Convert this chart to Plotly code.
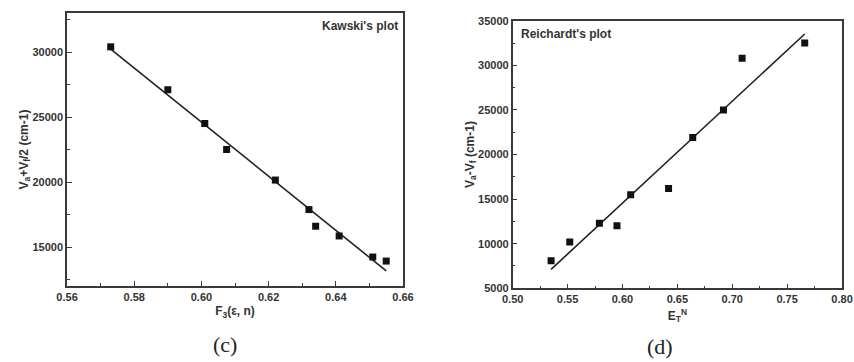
import numpy as np
import plotly.graph_objects as go

# Kawski's plot (c)
kaw_x = [0.573, 0.590, 0.601, 0.6075, 0.622, 0.632, 0.634, 0.641, 0.651, 0.655]
kaw_y = [30400, 27100, 24500, 22500, 20150, 17880, 16600, 15850, 14230, 13920]

# Reichardt's plot (d)
rei_x = [0.535, 0.552, 0.579, 0.595, 0.6075, 0.642, 0.664, 0.692, 0.709, 0.766]
rei_y = [8100, 10200, 12300, 12000, 15500, 16200, 21900, 25000, 30800, 32500]

kaw_fit = np.polyfit(kaw_x, kaw_y, 1)
rei_fit = np.polyfit(rei_x, rei_y, 1)
kaw_lx = [min(kaw_x), max(kaw_x)]
rei_lx = [min(rei_x), max(rei_x)]

TXT = "#333333"
LINE = "#3a3a3a"
FONT = "Liberation Sans"

fig = go.Figure()
fig.add_trace(go.Scatter(x=kaw_lx, y=list(np.polyval(kaw_fit, kaw_lx)), mode="lines",
                         line=dict(color="#222222", width=1.6), xaxis="x", yaxis="y", showlegend=False))
fig.add_trace(go.Scatter(x=kaw_x, y=kaw_y, mode="markers",
                         marker=dict(symbol="square", size=7, color="#111111"),
                         xaxis="x", yaxis="y", showlegend=False))
fig.add_trace(go.Scatter(x=rei_lx, y=list(np.polyval(rei_fit, rei_lx)), mode="lines",
                         line=dict(color="#222222", width=1.6), xaxis="x2", yaxis="y2", showlegend=False))
fig.add_trace(go.Scatter(x=rei_x, y=rei_y, mode="markers",
                         marker=dict(symbol="square", size=7, color="#111111"),
                         xaxis="x2", yaxis="y2", showlegend=False))

tickfont = dict(family=FONT, size=11, color=TXT, weight="bold")
titlefont = dict(family=FONT, size=12, color=TXT, weight="bold")

def ax(**kw):
    d = dict(showline=True, linecolor=LINE, linewidth=1.5, mirror=True,
             ticks="inside", ticklen=5, tickwidth=1.2, tickcolor=LINE,
             showgrid=False, zeroline=False, tickfont=tickfont, automargin=False,
             minor=dict(ticks="inside", ticklen=3, tickcolor=LINE, tickwidth=1, showgrid=False))
    d.update(kw)
    return d

fig.update_layout(
    width=854, height=362,
    margin=dict(l=0, r=0, t=0, b=0),
    paper_bgcolor="white", plot_bgcolor="white",
    xaxis=ax(domain=[0.0785, 0.4719], range=[0.56, 0.66], dtick=0.02, tick0=0.56,
             tickformat=".2f", anchor="y",
             minor_dtick=0.01,
             title=dict(text="F<sub>3</sub>(ε, n)", font=titlefont, standoff=5)),
    yaxis=ax(domain=[0.2099, 0.964], range=[12000, 33000], dtick=5000, tick0=0,
             anchor="x", minor_dtick=2500, tickformat="d",
             title=dict(text="V<sub>a</sub>+V<sub>f</sub>/2 (cm-1)", font=titlefont, standoff=0)),
    xaxis2=ax(domain=[0.6003, 0.986], range=[0.50, 0.80], dtick=0.05, tick0=0.5,
              tickformat=".2f", anchor="y2", minor_dtick=0.025,
              title=dict(text="E<sub>T</sub><sup>N</sup>", font=titlefont, standoff=7)),
    yaxis2=ax(domain=[0.2036, 0.9428], range=[5000, 35000], dtick=5000, tick0=0,
              anchor="x2", minor_dtick=2500, tickformat="d",
              title=dict(text="V<sub>a</sub>-V<sub>f</sub> (cm-1)", font=titlefont, standoff=0)),
    annotations=[
        dict(text="Kawski's plot", xref="x domain", yref="y domain", x=0.99, y=0.985,
             xanchor="right", yanchor="top", showarrow=False,
             font=dict(family=FONT, size=12, color=TXT, weight="bold")),
        dict(text="Reichardt's plot", xref="x2 domain", yref="y2 domain", x=0.02, y=0.985,
             xanchor="left", yanchor="top", showarrow=False,
             font=dict(family=FONT, size=12, color=TXT, weight="bold")),
        dict(text="(c)", xref="paper", yref="paper", x=225/854, y=1-344/362,
             xanchor="center", yanchor="middle", showarrow=False,
             font=dict(family="Liberation Serif", size=22, color="#222222")),
        dict(text="(d)", xref="paper", yref="paper", x=660/854, y=1-346/362,
             xanchor="center", yanchor="middle", showarrow=False,
             font=dict(family="Liberation Serif", size=22, color="#222222")),
    ],
)

fig.write_html("out.html", config={"displayModeBar": False},
               post_script="document.body.style.margin='0';document.body.style.overflow='hidden';")
